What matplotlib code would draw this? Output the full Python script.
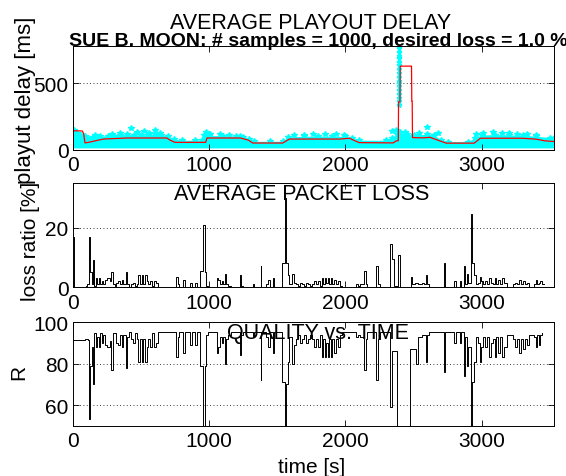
import matplotlib
matplotlib.use('Agg')
import matplotlib.pyplot as plt

plt.rcParams['font.family'] = ['Liberation Sans', 'DejaVu Sans']

W, H = 566, 477

# --- Playout delay (top panel) ---
delay_t = [0, 70, 80, 90, 120, 225, 400, 690, 715, 750, 975, 985, 1230, 1290, 1320,
           1540, 1590, 1960, 2030, 2100, 2350, 2375, 2388, 2390, 2400, 2402, 2485,
           2487, 2490, 2492, 2570, 2620, 2680, 2740, 2945, 2990, 3300, 3400, 3460, 3530]
delay_ms = [142, 140, 122, 50, 55, 79, 87, 87, 70, 54, 54, 87, 87, 70, 49,
            49, 79, 79, 85, 52, 50, 66, 66, 360, 360, 630, 630,
            365, 365, 90, 88, 92, 70, 48, 48, 85, 85, 78, 66, 60]

# cyan sample cloud: upper edge of the dense band
band_t = [0, 30, 60, 90, 110, 150, 200, 260, 300, 350, 400, 450, 500, 550, 600, 650,
          700, 740, 800, 900, 950, 960, 1000, 1100, 1200, 1250, 1290, 1330, 1450,
          1540, 1580, 1700, 1800, 1900, 2000, 2050, 2100, 2300, 2340, 2380, 2400,
          2450, 2500, 2600, 2650, 2700, 2750, 2900, 2950, 3000, 3100, 3200, 3300,
          3400, 3500, 3530]
band_top = [150, 125, 112, 100, 85, 95, 100, 105, 100, 110, 115, 110, 112, 110, 115, 110,
            100, 80, 70, 70, 72, 110, 105, 105, 100, 95, 80, 62, 62,
            62, 95, 100, 100, 100, 100, 90, 70, 70, 90, 120, 130,
            115, 110, 115, 110, 75, 60, 60, 90, 110, 112, 110, 108,
            100, 90, 85]
band_low = 12

# isolated samples above the band
spike_t = [10, 160, 290, 345, 428, 470, 520, 560, 607, 640, 975, 1010, 1080, 1150, 1230,
           1620, 1700, 1760, 1850, 1930, 1990, 2344, 2370, 2440, 2540, 2600, 2680,
           2960, 3010, 3080, 3150, 3200, 3260, 3330, 3400]
spike_ms = [150, 110, 115, 125, 163, 130, 140, 125, 150, 128, 133, 118, 120, 112, 105,
            110, 112, 118, 115, 120, 110, 140, 150, 135, 122, 170, 128,
            120, 125, 130, 122, 128, 118, 115, 108]

# column of samples during the delay burst
burst_t = 2396
burst_ms = [340, 365, 390, 420, 450, 480, 500, 520, 550, 580, 610, 640, 660, 690,
            710, 740, 770]

# --- Packet loss (middle panel), step values ---
loss_t = [0, 6, 95, 108, 116, 124, 140, 148, 156, 170, 180, 190, 200, 212, 225, 240,
          255, 270, 282, 295, 308, 320, 335, 350, 362, 372, 388, 398, 410, 428, 440,
          455, 470, 480, 492, 505, 518, 530, 542, 552, 565, 580, 595, 610, 625, 760,
          770, 782, 810, 822, 860, 872, 898, 910, 935, 955, 968, 978, 990, 1055, 1065,
          1078, 1092, 1105, 1118, 1128, 1142, 1158, 1225, 1238, 1250, 1320, 1332, 1378,
          1384, 1420, 1435, 1445, 1470, 1480, 1535, 1555, 1568, 1578, 1590, 1610, 1620,
          1635, 1650, 1665, 1680, 1695, 1710, 1725, 1740, 1755, 1770, 1785, 1800, 1812,
          1825, 1838, 1850, 1860, 1872, 1882, 1895, 1905, 1918, 1930, 1945, 1958, 1975,
          2080, 2095, 2110, 2140, 2148, 2160, 2225, 2240, 2255, 2330, 2345, 2358, 2389,
          2402, 2482, 2492, 2510, 2530, 2560, 2575, 2590, 2600, 2612, 2725, 2732, 2800,
          2810, 2838, 2848, 2870, 2878, 2890, 2900, 2922, 2930, 2945, 2955, 2970, 2985,
          2995, 3010, 3025, 3040, 3055, 3065, 3080, 3095, 3105, 3120, 3135, 3150, 3165,
          3185, 3230, 3245, 3260, 3275, 3290, 3305, 3320, 3335, 3350, 3380, 3395, 3405,
          3418, 3430, 3445, 3455]
loss_v = [17, 0, 0.5, 1, 17, 5, 1, 9, 0.5, 3, 1, 3, 1, 2, 1, 2.5,
          3, 2, 5, 1, 0.5, 1.5, 2, 1, 2.5, 1, 5, 1, 0, 1, 1.5,
          0.5, 1, 4, 1, 4, 1, 4, 2, 1, 2, 0.5, 2, 1.5, 0, 3.5,
          1, 0, 2.5, 0, 1.5, 0, 1.5, 0, 5.5, 21, 5, 0.5, 0, 3, 2.5,
          1, 2, 1, 4.5, 1, 0.5, 0, 4, 0.5, 0, 1, 0, 7,
          0, 1, 2.5, 0, 3, 0, 8, 30, 8, 4, 1, 4.5, 1.5,
          1, 0.5, 1.5, 1, 0.5, 1.5, 1, 0.5, 1, 2, 1, 2, 0.5,
          3, 1, 3, 1.5, 3, 1, 3, 1, 2.5, 1, 2, 0.5, 0,
          1, 0.5, 1, 5.5, 1, 0, 7, 1, 0, 14.5, 9.5, 0.5, 11,
          0, 3.5, 1, 1.5, 1, 1.5, 1, 4, 1, 0, 8, 0, 2,
          0, 2, 0, 7, 1, 4.5, 1.5, 24.5, 8, 4, 1, 1.5, 3.5,
          2, 1, 2, 1, 3, 1.5, 1, 3, 1, 2.5, 1, 3, 1.5,
          0, 1, 1.5, 1, 2.5, 1, 2, 1, 1.5, 0, 1, 2.5, 1,
          1.5, 2, 1, 1]

# --- Quality R (bottom panel), step values ---
r_t = [0, 90, 112, 116, 124, 140, 148, 156, 170, 180, 190, 200, 212, 225, 240, 255,
       270, 282, 295, 320, 335, 350, 362, 372, 388, 398, 410, 428, 440, 455, 470, 480,
       492, 505, 518, 530, 542, 552, 565, 580, 595, 610, 625, 760, 770, 782, 810, 822,
       860, 872, 898, 910, 935, 955, 968, 978, 990, 1055, 1065, 1078, 1092, 1105, 1118,
       1128, 1142, 1158, 1225, 1238, 1250, 1320, 1332, 1378, 1384, 1420, 1435, 1445,
       1470, 1480, 1535, 1555, 1568, 1578, 1590, 1610, 1620, 1635, 1650, 1665, 1680,
       1695, 1710, 1725, 1740, 1755, 1770, 1785, 1800, 1812, 1825, 1838, 1850, 1860,
       1872, 1882, 1895, 1905, 1918, 1930, 1945, 1958, 1975, 2080, 2095, 2110, 2140,
       2148, 2160, 2225, 2240, 2255, 2330, 2345, 2376, 2476, 2500, 2517, 2530, 2560,
       2590, 2600, 2612, 2725, 2732, 2800, 2810, 2838, 2848, 2870, 2878, 2890, 2900,
       2922, 2930, 2945, 2955, 2970, 2985, 2995, 3010, 3025, 3040, 3055, 3065, 3080,
       3095, 3105, 3120, 3135, 3150, 3165, 3185, 3230, 3245, 3260, 3275, 3290, 3305,
       3320, 3335, 3350, 3380, 3395, 3405, 3418, 3430, 3445]
r_v = [91.5, 92, 91.5, 53, 79, 88, 70, 95, 88, 93, 88, 95, 90, 94, 89, 88,
       91, 77, 95, 90, 89, 94, 88, 94, 78, 93, 95.5, 92, 90, 95, 92, 81,
       92, 81, 92, 81, 88, 92, 88, 95, 88, 90, 95.5, 83, 93, 95.5, 85, 95.5,
       89, 95.5, 89, 95.5, 79, 45, 79, 94, 95.5, 85, 88, 93, 90, 93, 80,
       92, 94, 95.5, 84, 94, 95.5, 93, 95.5, 72, 95.5, 93, 88, 95.5,
       85, 95.5, 71, 45, 70, 81, 93, 80, 89, 92, 94, 90, 92,
       94, 90, 92, 94, 92, 88, 92, 88, 94, 83, 92, 83, 90,
       83, 92, 83, 92, 85, 92, 88, 94, 95.5, 93, 94, 93, 77,
       92, 95.5, 72, 92, 95.5, 59, 86, 40, 87, 87, 80, 93, 94,
       81, 94, 95.5, 76, 95.5, 90, 95.5, 90, 95.5, 74, 93, 79, 88,
       45, 71, 81, 93, 90, 81, 88, 93, 88, 93, 83, 90, 92,
       83, 93, 85, 93, 83, 88, 94, 92, 88, 92, 85, 92, 87,
       92, 89, 94, 93, 88, 94, 89, 94, 95]

XMAX = 3530
XTICKS = [0, 1000, 2000, 3000]


def box(left, top, right, bottom):
    # pixel box -> figure fraction rect
    return [left / W, 1 - bottom / H, (right - left) / W, (bottom - top) / H]


def style(ax, ylim, yticks):
    ax.set_xlim(0, XMAX)
    ax.set_ylim(*ylim)
    ax.set_xticks(XTICKS)
    ax.set_yticks(yticks)
    ax.tick_params(direction='in', length=4, width=0.6, top=True, right=True,
                   labelsize=15)
    ax.tick_params(axis='x', pad=4)
    ax.tick_params(axis='y', pad=3)
    ax.yaxis.grid(True, linestyle=(0, (1, 3)), color='k', linewidth=0.6)
    for s in ax.spines.values():
        s.set_linewidth(0.7)


fig = plt.figure(figsize=(W / 100, H / 100), dpi=100)

ax1 = fig.add_axes(box(72.7, 47.3, 554, 150.5))
ax1.fill_between(band_t, band_low, band_top, color='#00ffff', linewidth=0)
ax1.plot(band_t, band_top, '*', color='#00ffff', markersize=4)
ax1.plot(spike_t, spike_ms, '*', color='#00ffff', markersize=4)
ax1.plot([burst_t] * len(burst_ms), burst_ms, '*', color='#00ffff', markersize=3.5)
ax1.plot(delay_t, delay_ms, '-', color='r', linewidth=0.9)
style(ax1, (0, 780), [0, 500])

ax2 = fig.add_axes(box(72.7, 184, 554, 288.3))
ax2.plot(loss_t, loss_v, color='k', linewidth=0.7, drawstyle='steps-post')
style(ax2, (0, 35), [0, 20])

ax3 = fig.add_axes(box(72.7, 323.3, 554, 426.7))
ax3.plot(r_t, r_v, color='k', linewidth=0.7, drawstyle='steps-post')
style(ax3, (50, 100), [60, 80, 100])

# titles
fig.text(311 / W, 1 - 29 / H, 'AVERAGE PLAYOUT DELAY', ha='center', va='baseline',
         fontsize=15.5)
fig.text(318 / W, 1 - 46 / H, 'SUE B. MOON: # samples = 1000, desired loss = 1.0 %',
         ha='center', va='baseline', fontsize=14, fontweight='bold')
fig.text(302 / W, 1 - 200 / H, 'AVERAGE PACKET LOSS', ha='center', va='baseline',
         fontsize=15.5)
fig.text(318 / W, 1 - 339 / H, 'QUALITY vs. TIME', ha='center', va='baseline',
         fontsize=15.5)

# axis labels
fig.text(26 / W, 1 - 100 / H, 'playut delay [ms]', rotation=90, ha='center',
         va='center', fontsize=16)
fig.text(30 / W, 1 - 241 / H, 'loss ratio [%]', rotation=90, ha='center',
         va='center', fontsize=15)
fig.text(18.5 / W, 1 - 372 / H, 'R', rotation=90, ha='center', va='center',
         fontsize=15)
fig.text(312 / W, 1 - 473 / H, 'time [s]', ha='center', va='baseline', fontsize=15)

fig.savefig('out.png', dpi=100)
